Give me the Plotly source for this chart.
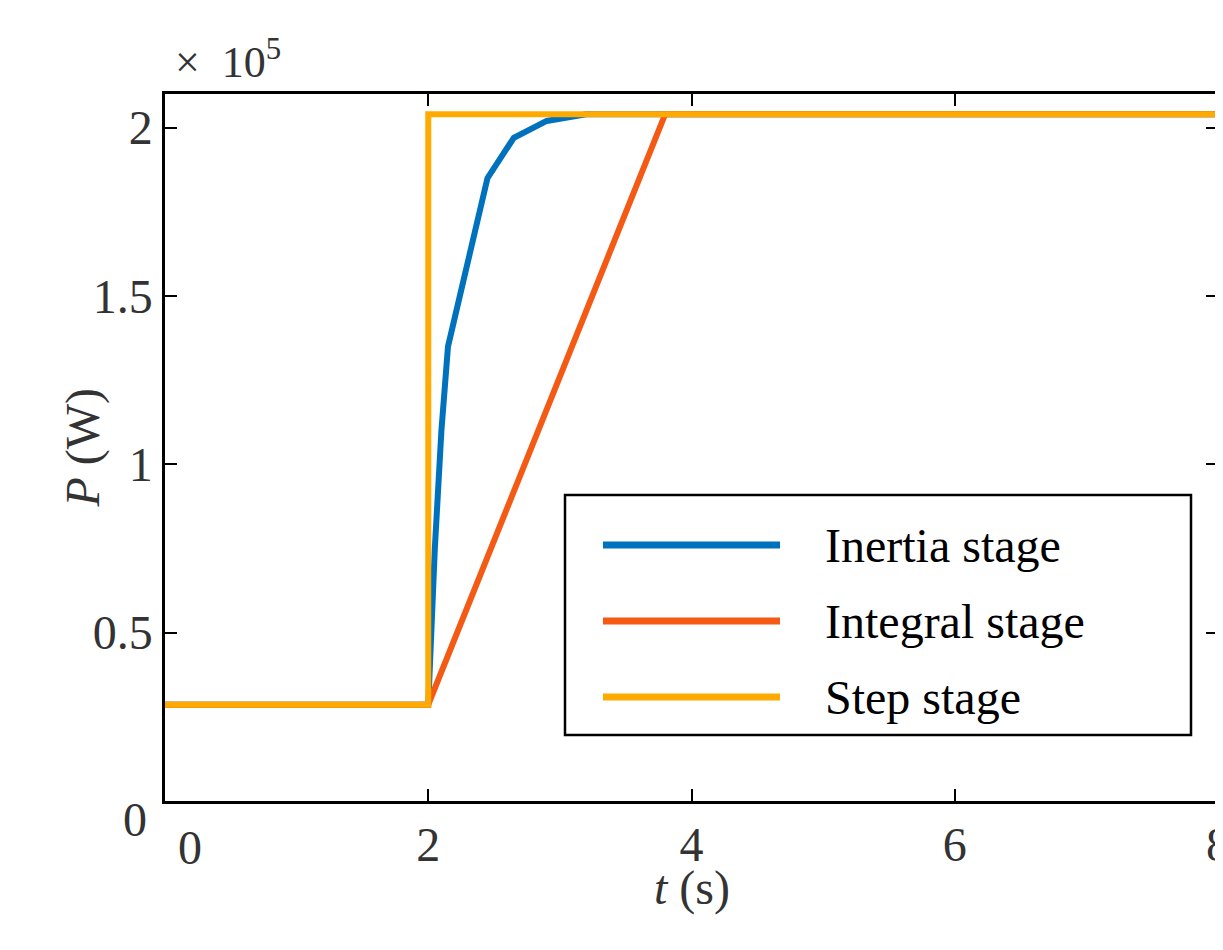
import plotly.graph_objects as go

t_inertia = [0, 2, 2.05, 2.1, 2.15, 2.3, 2.45, 2.65, 2.9, 3.2, 8]
p_inertia = [0.286, 0.286, 0.75, 1.1, 1.35, 1.6, 1.85, 1.97, 2.02, 2.04, 2.04]
t_integral = [0, 2, 3.8, 8]
p_integral = [0.286, 0.286, 2.04, 2.04]
t_step = [0, 2, 2, 8]
p_step = [0.286, 0.286, 2.04, 2.04]
x_ticks = [2, 4, 6, 8]
y_ticks = [0.5, 1, 1.5, 2]
y_labels = ["0.5", "1", "1.5", "2"]
names = ["Inertia stage", "Integral stage", "Step stage"]
colors = ["#0072BD", "#F45A14", "#FFAA00"]

F = "Liberation Serif, Times New Roman, DejaVu Serif, serif"
W, H = 1223, 950
L, R, T, B = 157, 13, 86, 157
fig = go.Figure()
for tx, py, n, c in [(t_inertia, p_inertia, names[0], colors[0]),
                     (t_integral, p_integral, names[1], colors[1]),
                     (t_step, p_step, names[2], colors[2])]:
    fig.add_trace(go.Scatter(x=tx, y=py, mode="lines", name=n, line=dict(color=c, width=6),
                             showlegend=False))
ax = dict(showgrid=False, zeroline=False, showline=True, linecolor="black", linewidth=2.5,
          mirror="ticks", ticks="inside", ticklen=12, tickwidth=2, tickcolor="black",
          automargin=False, tickfont=dict(family=F, size=48, color="#333"))
fig.update_layout(
    width=W, height=H, plot_bgcolor="white", paper_bgcolor="white",
    margin=dict(l=L, r=R, t=T, b=B, autoexpand=False),
    xaxis=dict(range=[0, 8], tickvals=x_ticks, ticktext=[str(v) for v in x_ticks], **ax),
    yaxis=dict(range=[0, 2.1], tickvals=y_ticks, ticktext=y_labels, **ax),
    showlegend=False,
)
pw, ph = W - L - R, H - T - B
def px(x): return (x - L) / pw
def py_(y): return (H - B - y) / ph
shapes = [dict(type="rect", xref="paper", yref="paper", x0=px(557), x1=px(1183), y0=py_(727), y1=py_(487),
               line=dict(color="black", width=2.5), fillcolor="white", layer="above")]
ann = []
for i, (n, c) in enumerate(zip(names, colors)):
    yy = 537 + i * 76
    shapes.append(dict(type="line", xref="paper", yref="paper", x0=px(595), x1=px(772), y0=py_(yy), y1=py_(yy),
                       line=dict(color=c, width=7), layer="above"))
    ann.append(dict(x=px(815), y=py_(yy), xref="paper", yref="paper", text=n, showarrow=False,
                    xanchor="left", yanchor="middle", font=dict(family=F, size=48, color="black")))
ann += [
    dict(x=0, y=-0.025, xref="x", yref="paper", text="0", showarrow=False, yanchor="top",
         xshift=25, font=dict(family=F, size=48, color="#333")),
    dict(x=0, y=0, xref="paper", yref="y", text="0", showarrow=False, xanchor="right",
         xshift=-16, yshift=-18, font=dict(family=F, size=48, color="#333")),
    dict(x=0.5, y=py_(880), xref="paper", yref="paper", text="<i>t</i> (s)", showarrow=False, yanchor="middle",
         font=dict(family=F, size=48, color="#333")),
    dict(x=px(45), y=0.5, xref="paper", yref="paper", text="<i>P</i> (W)", showarrow=False, textangle=-90,
         font=dict(family=F, size=48, color="#333")),
    dict(x=px(165), y=py_(52), xref="paper", yref="paper", text="×  10<sup>5</sup>", showarrow=False,
         xanchor="left", yanchor="middle", font=dict(family=F, size=44, color="#333")),
]
fig.update_layout(annotations=ann, shapes=shapes)
fig.write_html("out.html")
